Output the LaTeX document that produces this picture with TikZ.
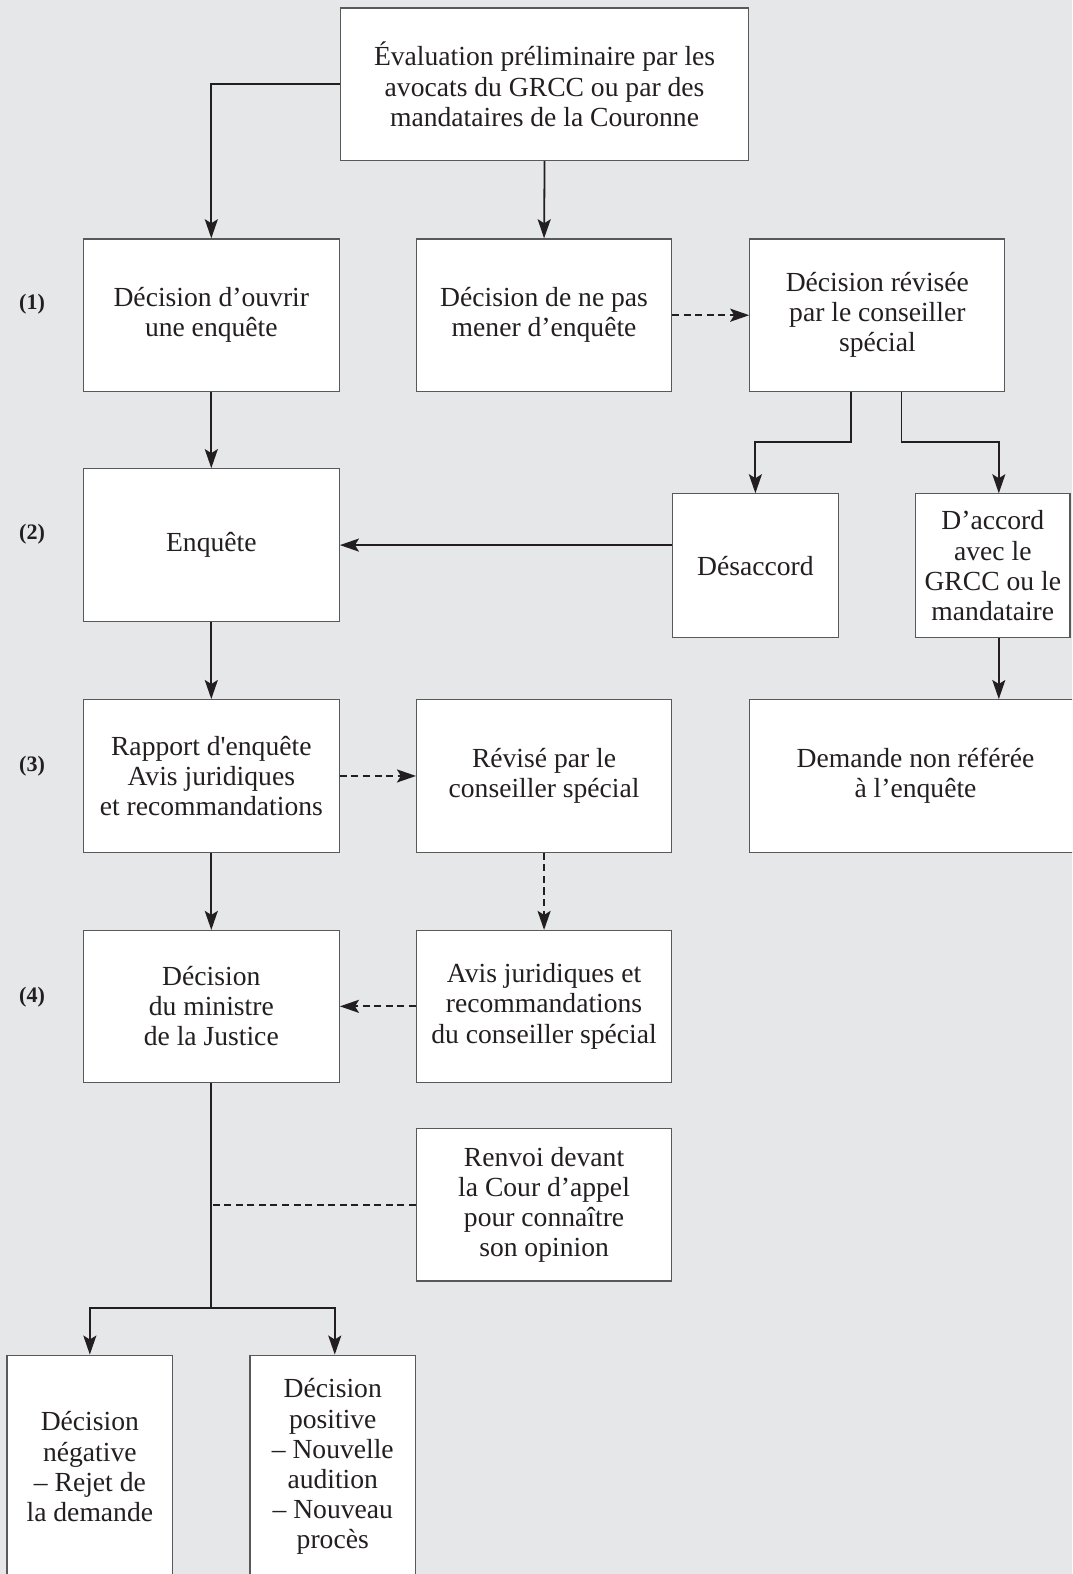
\documentclass[tikz,border=0pt]{standalone}
\usepackage{fontspec}
\setmainfont{Liberation Serif}
\usetikzlibrary{arrows.meta,calc}
\definecolor{bg}{HTML}{E6E7E8}
\definecolor{ink}{HTML}{231F20}
\definecolor{frame}{HTML}{58595B}
\begin{document}
\begin{tikzpicture}[x=1pt,y=-1pt,
 box/.style={draw=frame,line width=1.2pt,fill=white,align=center,inner sep=0pt,font=\fontsize{27.5}{30}\selectfont,text=ink},
 lab/.style={font=\fontsize{22}{24}\selectfont\bfseries,text=ink},
 conn/.style={draw=ink,line width=1.8pt},
 arr/.style={conn,-{Stealth[length=19pt,width=13pt,inset=4pt]}},
 darr/.style={arr,dash pattern=on 7pt off 4.5pt},
 dline/.style={conn,dash pattern=on 7pt off 4.5pt}]
\useasboundingbox (0,0) rectangle (1068,1568);
\fill[bg] (0,0) rectangle (1068,1568);
\begin{scope}
\clip (0,0) rectangle (1068,1568);
\node[box,minimum width=407,minimum height=152] (top) at (542.5,84) {Évaluation préliminaire par les\\avocats du GRCC ou par des\\mandataires de la Couronne};
\node[box,minimum width=255,minimum height=152] (A) at (210.5,314) {Décision d’ouvrir\\une enquête};
\node[box,minimum width=254,minimum height=152] (B) at (542,314) {Décision de ne pas\\mener d’enquête};
\node[box,minimum width=254,minimum height=152] (C) at (874,314) {Décision révisée\\par le conseiller\\spécial};
\node[box,minimum width=255,minimum height=152] (Enq) at (210.5,543) {Enquête};
\node[box,minimum width=154,minimum height=143] (Dac) at (989,563.5) {D’accord\\avec le\\GRCC ou le\\mandataire};
\node[box,minimum width=165,minimum height=143] (Des) at (752.5,563.5) {Désaccord};
\node[box,minimum width=255,minimum height=152] (Rap) at (210.5,773) {Rapport d\textquotesingle enquête\\Avis juridiques\\et recommandations};
\node[box,minimum width=254,minimum height=152] (Rev) at (542,773) {Révisé par le\\conseiller spécial};
\node[box,minimum width=330,minimum height=152] (Dem) at (912,773) {Demande non référée\\à l’enquête};
\node[box,minimum width=255,minimum height=151] (Min) at (210.5,1002.5) {Décision\\du ministre\\de la Justice};
\node[box,minimum width=254,minimum height=151] (Avis) at (542,1002.5) {Avis juridiques et\\recommandations\\du conseiller spécial};
\node[box,minimum width=254,minimum height=152] (Ren) at (542,1200) {Renvoi devant\\la Cour d’appel\\pour connaître\\son opinion};
\node[box,minimum width=165,minimum height=222] (Neg) at (89.5,1461) {Décision\\négative\\– Rejet de\\la demande};
\node[box,minimum width=165,minimum height=222] (Pos) at (331.5,1461) {Décision\\positive\\– Nouvelle\\audition\\– Nouveau\\procès};
\end{scope}
\node[lab] (l1) at (32,303) {(1)};
\node[lab] (l2) at (32,532) {(2)};
\node[lab] (l3) at (32,763) {(3)};
\node[lab] (l4) at (32,993) {(4)};
\draw[arr] (top.west) -| (A.north);
\draw[arr] (top.south) -- (B.north);
\draw[darr] (B.east) -- (C.west);
\draw[arr] ([xshift=-26]C.south) -- ++(0,50) -| (Des.north);
\draw[arr] ([xshift=24]C.south) -- ++(0,50) -| ([xshift=6]Dac.north);
\draw[arr] (Des.west |- Enq.east) -- (Enq.east);
\draw[arr] (A.south) -- (Enq.north);
\draw[arr] (Enq.south) -- (Rap.north);
\draw[arr] ([xshift=6]Dac.south) -- ([xshift=6]Dac.south |- Dem.north);
\draw[darr] (Rap.east) -- (Rev.west);
\draw[darr] (Rev.south) -- (Avis.north);
\draw[arr] (Rap.south) -- (Min.north);
\draw[darr] (Avis.west) -- (Min.east);
\coordinate (split) at (210.5,1303);
\draw[conn] (Min.south) -- (split);
\draw[arr] (split) -| (Neg.north);
\draw[arr] (split) -| ([xshift=2]Pos.north);
\draw[dline] (Ren.west) -- (Ren.west -| Min.south);
\end{tikzpicture}
\end{document}
